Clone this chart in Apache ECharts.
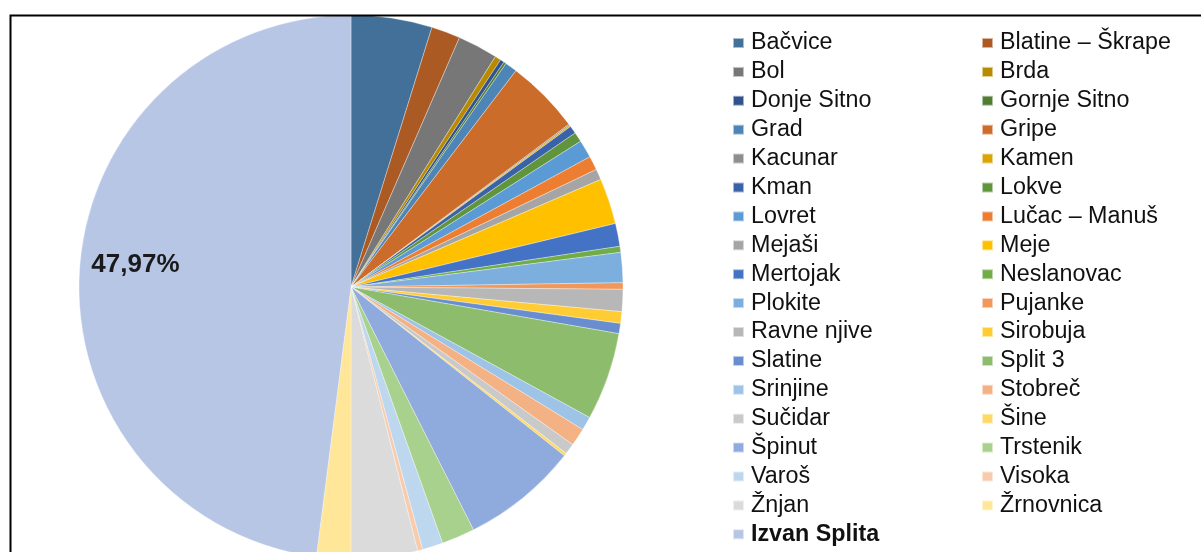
<!DOCTYPE html>
<html>
<head>
<meta charset="utf-8">
<script src="https://cdn.jsdelivr.net/npm/echarts@6/dist/echarts.min.js"></script>
<style>
html,body{margin:0;padding:0;background:#fff;}
#chart{width:1201px;height:552px;}
</style>
</head>
<body>
<div id="chart"></div>
<script>
var categories = ['Bačvice','Blatine – Škrape','Bol','Brda','Donje Sitno','Gornje Sitno','Grad','Gripe','Kacunar','Kamen','Kman','Lokve','Lovret','Lučac – Manuš','Mejaši','Meje','Mertojak','Neslanovac','Plokite','Pujanke','Ravne njive','Sirobuja','Slatine','Split 3','Srinjine','Stobreč','Sučidar','Šine','Špinut','Trstenik','Varoš','Visoka','Žnjan','Žrnovnica','Izvan Splita'];
var shares = [4.81,1.72,2.38,0.36,0.24,0.14,0.72,4.42,0.08,0.08,0.47,0.58,1.06,0.83,0.64,2.72,1.36,0.36,1.78,0.39,1.31,0.69,0.61,5.22,0.81,1.06,0.64,0.17,6.92,1.97,1.22,0.31,3.94,2.03,47.97];
var colors = ['#427099','#AB5A23','#777777','#B88A00','#31528D','#517D33',
              '#4E85B7','#CC6C2A','#8E8E8E','#DBA500','#3A62A9','#60953D',
              '#5B9BD5','#ED7D31','#A5A5A5','#FFC000','#4472C4','#70AD47',
              '#7CAFDD','#F1975A','#B7B7B7','#FFCD33','#698ED0','#8DBD6C',
              '#9DC3E6','#F4B183','#C9C9C9','#FFD966','#8FAADC','#A9D18E',
              '#BDD7EE','#F8CBAD','#DBDBDB','#FFE699','#B8C6E5'];
var labelledSlices = ['Izvan Splita'];
var boldLegendItems = ['Izvan Splita'];

var FONT = '"Liberation Sans", Arial, sans-serif';
var chart = echarts.init(document.getElementById('chart'), null, {renderer:'canvas'});

var mainData = categories.map(function(n,i){
  return {name:n, value:shares[i], itemStyle:{color:colors[i]}};
});
var overlayData = categories.map(function(n,i){
  return {name:n, value:shares[i], label:{show: labelledSlices.indexOf(n) >= 0}};
});
function legendItems(parity){
  var out = [];
  categories.forEach(function(n,i){
    if (i % 2 === parity) {
      var it = {name:n};
      if (boldLegendItems.indexOf(n) >= 0) it.textStyle = {fontWeight:'bold'};
      out.push(it);
    }
  });
  return out;
}
var legendBase = {
  orient:'vertical', top:30, padding:0, itemGap:2.9,
  itemWidth:11, itemHeight:10, icon:'rect', selectedMode:false,
  textStyle:{fontFamily:FONT, fontSize:23.3, lineHeight:26, color:'#111', padding:[0,0,0,2]}
};
var option = {
  animation:false,
  backgroundColor:'#fff',
  color: colors,
  legend:[
    Object.assign({}, legendBase, {left:732, data:legendItems(0)}),
    Object.assign({}, legendBase, {left:981, data:legendItems(1)})
  ],
  graphic:[{
    type:'rect', left:8, top:13, z:100, silent:true,
    shape:{x:0,y:0,width:1400,height:800},
    style:{fill:'none', stroke:'#000', lineWidth:2}
  }],
  series:[
    {
      type:'pie', center:[351,287], radius:[0,272], startAngle:90, clockwise:true,
      silent:true, label:{show:false}, labelLine:{show:false},
      itemStyle:{borderColor:'rgba(255,255,255,0.55)', borderWidth:0.6},
      emphasis:{disabled:true},
      data: mainData
    },
    {
      type:'pie', center:[351,287], radius:[162,272], startAngle:90, clockwise:true,
      silent:true, legendHoverLink:false, emphasis:{disabled:true},
      itemStyle:{color:'rgba(0,0,0,0)', borderWidth:0},
      labelLine:{show:false},
      label:{show:false, position:'inside', fontFamily:FONT, fontSize:26, fontWeight:'bold', color:'#1a1a1a',
        padding:[0,0,0,8],
        rich:{
          a:{fontFamily:FONT, fontSize:26, fontWeight:'bold', color:'#1a1a1a', lineHeight:26},
          b:{fontSize:10, lineHeight:16}
        },
        formatter:function(p){ return '{a|' + p.value.toFixed(2).replace('.', ',') + '%}\n{b| }'; }},
      data: overlayData
    }
  ]
};
chart.setOption(option);
</script>
</body>
</html>
